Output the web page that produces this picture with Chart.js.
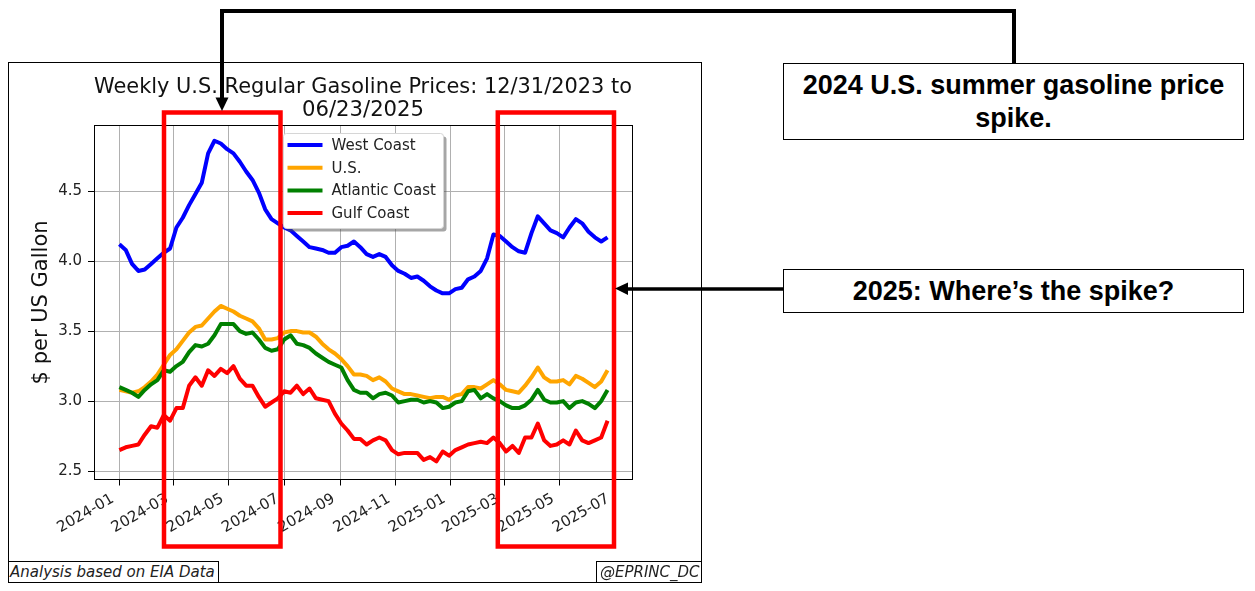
<!DOCTYPE html>
<html>
<head>
<meta charset="utf-8">
<script src="https://cdn.jsdelivr.net/npm/chart.js@4.4.1/dist/chart.umd.min.js"></script>
<style>
  html, body { margin: 0; padding: 0; background: #fff; }
  #wrap { position: relative; width: 1255px; height: 591px; overflow: hidden; }
  #wrap canvas { position: absolute; left: 0; top: 0; }
  .note {
    position: absolute; left: 783px; width: 461px; box-sizing: border-box;
    border: 1px solid #000; background: #fff; color: #000;
    font-family: "Liberation Sans", Arial, sans-serif; font-weight: bold;
    font-size: 27px; line-height: 33px; text-align: center;
    display: flex; align-items: center; justify-content: center;
  }
  .foot {
    position: absolute; top: 561px; height: 22px; box-sizing: border-box;
    border: 1px solid #000; background: #fff; color: #222;
    font-family: "DejaVu Sans", sans-serif; font-style: italic;
    font-size: 15px; line-height: 20px; white-space: nowrap; overflow: hidden;
  }
</style>
</head>
<body>
<div id="wrap">
  <canvas id="gasChart"></canvas>
  <div class="note" style="top:63px; height:77px;">2024 U.S. summer gasoline price<br>spike.</div>
  <div class="note" style="top:269px; height:44px;">2025: Where’s the spike?</div>
  <div class="foot" style="left:8px; width:211px; padding-left:1px;">Analysis based on EIA Data</div>
  <div class="foot" style="left:596px; width:106px; padding-left:3px;">@EPRINC_DC</div>
</div>
<script>
// weekly prices, Mondays from 2024-01-01 to 2025-06-23 (x = days since 2024-01-01)
const weekCount = 78;
const weekDays = Array.from({ length: weekCount }, (_, i) => i * 7);

const xTickLabels = ['2024-01', '2024-03', '2024-05', '2024-07', '2024-09',
  '2024-11', '2025-01', '2025-03', '2025-05', '2025-07'];
const yTicks = [2.5, 3.0, 3.5, 4.0, 4.5];

const westCoast = [
  4.12, 4.08, 3.98, 3.93, 3.94, 3.98, 4.02, 4.06, 4.09, 4.24,
  4.31, 4.40, 4.48, 4.56, 4.77, 4.86, 4.84, 4.80, 4.77, 4.71,
  4.64, 4.58, 4.49, 4.37, 4.30, 4.27, 4.24, 4.22, 4.18, 4.14,
  4.10, 4.09, 4.08, 4.06, 4.06, 4.10, 4.11, 4.14, 4.10, 4.05,
  4.03, 4.05, 4.03, 3.97, 3.93, 3.91, 3.88, 3.89, 3.86, 3.82,
  3.79, 3.77, 3.77, 3.80, 3.81, 3.87, 3.89, 3.93, 4.02, 4.19,
  4.18, 4.14, 4.10, 4.07, 4.06, 4.20, 4.32, 4.27, 4.22, 4.20,
  4.17, 4.24, 4.30, 4.27, 4.21, 4.17, 4.14, 4.17
];
const usAverage = [
  3.08, 3.07, 3.06, 3.07, 3.10, 3.14, 3.19, 3.26, 3.33, 3.37,
  3.43, 3.49, 3.53, 3.54, 3.59, 3.64, 3.68, 3.66, 3.64, 3.61,
  3.59, 3.57, 3.52, 3.44, 3.44, 3.45, 3.49, 3.50, 3.50, 3.49,
  3.49, 3.46, 3.41, 3.37, 3.34, 3.30, 3.25, 3.19, 3.19, 3.18,
  3.15, 3.17, 3.14, 3.09, 3.07, 3.05, 3.05, 3.04, 3.03, 3.02,
  3.03, 3.03, 3.01, 3.04, 3.05, 3.10, 3.10, 3.09, 3.12, 3.15,
  3.12, 3.08, 3.07, 3.06, 3.11, 3.17, 3.24, 3.17, 3.14, 3.14,
  3.15, 3.12, 3.18, 3.16, 3.13, 3.10, 3.14, 3.22
];
const atlanticCoast = [
  3.10, 3.08, 3.06, 3.03, 3.08, 3.12, 3.15, 3.22, 3.21, 3.25,
  3.28, 3.35, 3.40, 3.39, 3.41, 3.47, 3.55, 3.55, 3.55, 3.50,
  3.48, 3.49, 3.44, 3.38, 3.36, 3.37, 3.44, 3.47, 3.41, 3.40,
  3.38, 3.34, 3.31, 3.28, 3.26, 3.24, 3.15, 3.08, 3.06, 3.06,
  3.02, 3.05, 3.06, 3.04, 2.99, 3.00, 3.01, 3.01, 2.99, 3.00,
  2.99, 2.95, 2.96, 2.99, 3.00, 3.07, 3.08, 3.02, 3.05, 3.02,
  3.00, 2.97, 2.95, 2.95, 2.97, 3.01, 3.08, 3.01, 2.99, 2.99,
  3.00, 2.95, 2.99, 3.00, 2.98, 2.95, 3.00, 3.08
];
const gulfCoast = [
  2.65, 2.67, 2.68, 2.69, 2.76, 2.82, 2.81, 2.90, 2.86, 2.95,
  2.95, 3.11, 3.17, 3.11, 3.22, 3.18, 3.23, 3.20, 3.25, 3.16,
  3.11, 3.11, 3.03, 2.96, 2.99, 3.02, 3.07, 3.06, 3.11, 3.05,
  3.09, 3.02, 3.01, 3.00, 2.91, 2.84, 2.79, 2.73, 2.73, 2.69,
  2.72, 2.74, 2.72, 2.65, 2.62, 2.63, 2.63, 2.63, 2.58, 2.60,
  2.57, 2.64, 2.61, 2.65, 2.67, 2.69, 2.70, 2.71, 2.70, 2.74,
  2.70, 2.64, 2.68, 2.63, 2.74, 2.74, 2.84, 2.72, 2.68, 2.69,
  2.72, 2.69, 2.79, 2.72, 2.70, 2.72, 2.74, 2.86
];

const DAY = 86400000;
const origin = Date.UTC(2024, 0, 1);
const toDay = s => (Date.UTC(+s.slice(0, 4), +s.slice(5, 7) - 1, 1) - origin) / DAY;
const xTickDays = xTickLabels.map(toDay);
const pairs = vals => vals.map((v, i) => ({ x: weekDays[i], y: v }));

Chart.defaults.font.family = '"DejaVu Sans", sans-serif';

// frame, spines, legend box, red highlight boxes and callout arrows
const figurePlugin = {
  id: 'figure',
  beforeDraw(chart) {
    const c = chart.ctx;
    c.save();
    c.fillStyle = '#fff';
    c.fillRect(0, 0, chart.width, chart.height);
    c.strokeStyle = '#000';
    c.lineWidth = 1;
    c.strokeRect(8.5, 62.5, 693, 520);
    c.restore();
  },
  afterDatasetsDraw(chart) {
    const c = chart.ctx;
    const a = chart.chartArea;
    c.save();
    c.strokeStyle = '#000';
    c.lineWidth = 1;
    c.strokeRect(Math.round(a.left) + 0.5, Math.round(a.top) + 0.5,
      Math.round(a.width), Math.round(a.height));

    // legend, upper centre
    const w = 160, h = 95;
    const lx = Math.round((a.left + a.right) / 2 - w / 2) + 0.5;
    const ly = Math.round(a.top + 8) + 0.5;
    const box = (x, y) => {
      c.beginPath();
      if (c.roundRect) c.roundRect(x, y, w, h, 3); else c.rect(x, y, w, h);
    };
    box(lx + 3, ly + 3);
    c.fillStyle = 'rgba(77,77,77,0.5)';
    c.fill();
    box(lx, ly);
    c.fillStyle = '#ffffff';
    c.fill();
    c.strokeStyle = '#d6d6d6';
    c.stroke();
    c.font = '15px "DejaVu Sans", sans-serif';
    c.textBaseline = 'middle';
    c.textAlign = 'left';
    chart.data.datasets.forEach((ds, i) => {
      const y = ly + 11.5 + i * 22.7;
      c.strokeStyle = ds.borderColor;
      c.lineWidth = 4;
      c.beginPath();
      c.moveTo(lx + 4, y);
      c.lineTo(lx + 39, y);
      c.stroke();
      c.fillStyle = '#222';
      c.fillText(ds.label, lx + 48, y + 1);
    });
    c.restore();
  },
  afterDraw(chart) {
    const c = chart.ctx;
    c.save();
    c.strokeStyle = '#ff0000';
    c.lineWidth = 4.5;
    c.strokeRect(164, 112.5, 116.5, 434);
    c.strokeRect(497.8, 112.5, 116.2, 434);

    c.strokeStyle = '#000';
    c.fillStyle = '#000';
    c.lineWidth = 4;
    c.lineJoin = 'miter';
    c.beginPath();
    c.moveTo(1014, 63);
    c.lineTo(1014, 11);
    c.lineTo(222, 11);
    c.lineTo(222, 99);
    c.stroke();
    c.beginPath();
    c.moveTo(222, 111);
    c.lineTo(215.5, 97.5);
    c.lineTo(228.5, 97.5);
    c.closePath();
    c.fill();

    c.lineWidth = 3.5;
    c.beginPath();
    c.moveTo(783, 289);
    c.lineTo(626, 289);
    c.stroke();
    c.beginPath();
    c.moveTo(615, 288.5);
    c.lineTo(628, 282.5);
    c.lineTo(628, 295);
    c.closePath();
    c.fill();
    c.restore();
  }
};

const line = (label, vals, color, order) => ({
  label, data: pairs(vals), borderColor: color, backgroundColor: color,
  borderWidth: 4, pointRadius: 0, tension: 0, borderJoinStyle: 'round', order
});

new Chart(document.getElementById('gasChart'), {
  type: 'line',
  data: {
    datasets: [
      line('West Coast', westCoast, '#0000ff', 3),
      line('U.S.', usAverage, '#ffa500', 2),
      line('Atlantic Coast', atlanticCoast, '#008000', 1),
      line('Gulf Coast', gulfCoast, '#ff0000', 0)
    ]
  },
  options: {
    responsive: true,
    maintainAspectRatio: false,
    animation: false,
    layout: { padding: { left: 8, top: 62, right: 623, bottom: 0 } },
    plugins: {
      legend: { display: false },
      tooltip: { enabled: false },
      title: {
        display: true,
        fullSize: false,
        text: ['Weekly U.S. Regular Gasoline Prices: 12/31/2023 to', '06/23/2025'],
        color: '#111',
        font: { size: 21.2, weight: 'normal', lineHeight: 1.1 },
        padding: { top: 13.5, bottom: 3.2 }
      }
    },
    scales: {
      x: {
        type: 'linear',
        min: -28,
        max: 566,
        afterBuildTicks: s => { s.ticks = xTickDays.map(v => ({ value: v })); },
        afterFit: s => { s.height = 111.5; },
        ticks: {
          autoSkip: false, minRotation: 30, maxRotation: 30, padding: 4.5,
          labelOffset: -6.5, color: '#222', font: { size: 15 },
          callback: v => xTickLabels[xTickDays.indexOf(v)]
        },
        grid: { color: '#b0b0b0', lineWidth: 1, tickLength: 6, tickColor: '#000' },
        border: { display: false }
      },
      y: {
        min: 2.44,
        max: 4.97,
        afterBuildTicks: s => { s.ticks = yTicks.map(v => ({ value: v })); },
        afterFit: s => { s.width = 86; },
        ticks: { padding: 6, color: '#222', font: { size: 15 }, callback: v => v.toFixed(1) },
        grid: { color: '#b0b0b0', lineWidth: 1, tickLength: 6, tickColor: '#000' },
        border: { display: false },
        title: {
          display: true, text: '$ per US Gallon', color: '#111',
          font: { size: 21 }, padding: { top: 20.7, bottom: 0 }
        }
      }
    }
  },
  plugins: [figurePlugin]
});
</script>
</body>
</html>
